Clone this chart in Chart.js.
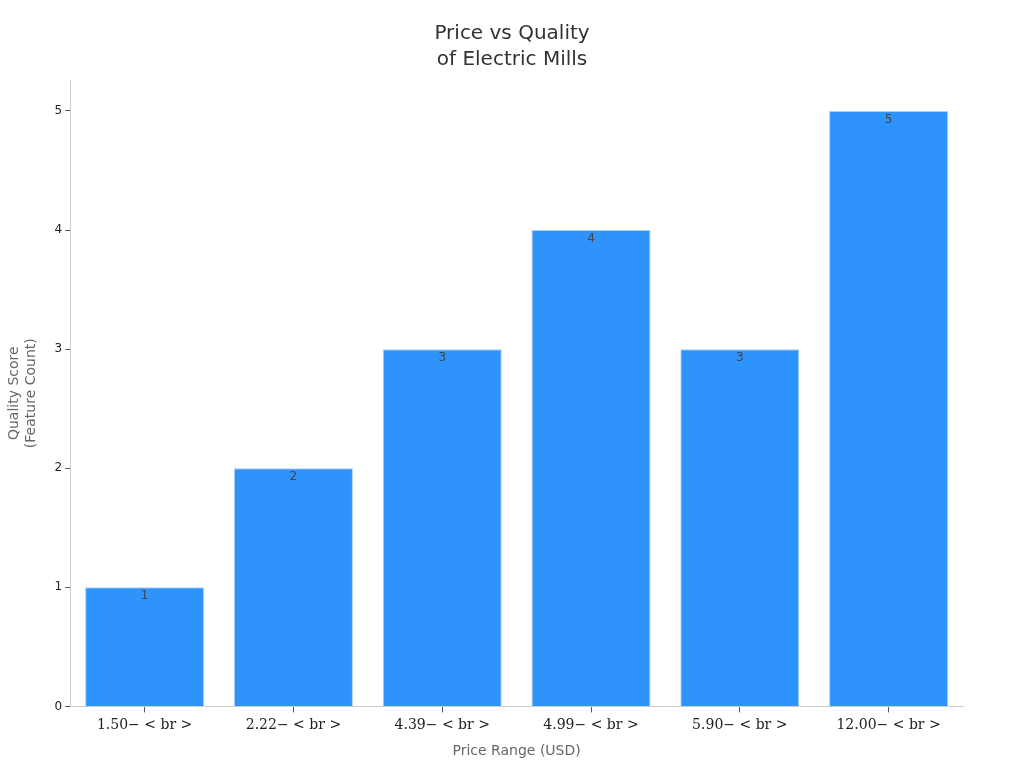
<!DOCTYPE html>
<html>
<head>
<meta charset="utf-8">
<script src="https://cdn.jsdelivr.net/npm/chart.js@4.4.0/dist/chart.umd.min.js"></script>
<style>
html,body{margin:0;padding:0;background:#fff;}
#wrap{width:1024px;height:768px;}
</style>
</head>
<body>
<div id="wrap"><canvas id="c" width="1024" height="768"></canvas></div>
<script>
const categories = ["1.50\u2212 < br >", "2.22\u2212 < br >", "4.39\u2212 < br >", "4.99\u2212 < br >", "5.90\u2212 < br >", "12.00\u2212 < br >"];
const qualityScores = [1, 2, 3, 4, 3, 5];
const yTicks = [0, 1, 2, 3, 4, 5];
const titleLines = ["Price vs Quality", "of Electric Mills"];
const xTitle = "Price Range (USD)";
const yTitle = ["Quality Score", "(Feature Count)"];

const valueLabels = {
  id: 'valueLabels',
  afterDatasetsDraw(chart) {
    const ctx = chart.ctx;
    const meta = chart.getDatasetMeta(0);
    ctx.save();
    ctx.font = '12px "DejaVu Sans"';
    ctx.fillStyle = '#444';
    ctx.textAlign = 'center';
    ctx.textBaseline = 'top';
    meta.data.forEach((bar, i) => {
      ctx.fillText(String(qualityScores[i]), bar.x, bar.y + 3);
    });
    ctx.restore();
  }
};

const centeredTitle = {
  id: 'centeredTitle',
  afterDraw(chart) {
    const ctx = chart.ctx;
    ctx.save();
    ctx.font = '20px "DejaVu Sans"';
    ctx.fillStyle = '#333';
    ctx.textAlign = 'center';
    ctx.textBaseline = 'middle';
    ctx.fillText(titleLines[0], chart.width / 2, 34);
    ctx.fillText(titleLines[1], chart.width / 2, 60);
    ctx.restore();
  }
};

new Chart(document.getElementById('c'), {
  type: 'bar',
  data: {
    labels: categories,
    datasets: [{
      data: qualityScores,
      backgroundColor: '#2E93FA',
      borderColor: '#A9D0F7',
      borderWidth: 1,
      categoryPercentage: 1.0,
      barPercentage: 0.8
    }]
  },
  options: {
    responsive: false,
    animation: false,
    layout: { padding: { left: 6, right: 61, top: 80, bottom: 8 } },
    plugins: {
      legend: { display: false },
      tooltip: { enabled: false },
      title: { display: false }
    },
    scales: {
      x: {
        grid: { display: true, offset: false, drawOnChartArea: false, drawTicks: true, tickLength: 6, tickColor: '#555', tickWidth: 1 },
        border: { display: true, color: '#ccc' },
        ticks: {
          color: '#222',
          font: { family: '"DejaVu Serif"', size: 14 },
          maxRotation: 0,
          padding: 5
        },
        title: {
          display: true,
          text: xTitle,
          color: '#666',
          font: { family: '"DejaVu Sans"', size: 14 },
          padding: { top: 4, bottom: 0 }
        }
      },
      y: {
        min: 0,
        max: 5.26,
        afterBuildTicks(scale) {
          scale.ticks = yTicks.map(v => ({ value: v }));
        },
        grid: { display: true, drawOnChartArea: false, drawTicks: true, tickLength: 5, tickColor: '#555', tickWidth: 1 },
        border: { display: true, color: '#ccc' },
        ticks: {
          color: '#222',
          font: { family: '"DejaVu Sans"', size: 12 },
          padding: 3
        },
        title: {
          display: true,
          text: yTitle,
          color: '#666',
          font: { family: '"DejaVu Sans"', size: 14, lineHeight: 1.2 },
          padding: { top: 0, bottom: 12 }
        }
      }
    }
  },
  plugins: [valueLabels, centeredTitle]
});
</script>
</body>
</html>
